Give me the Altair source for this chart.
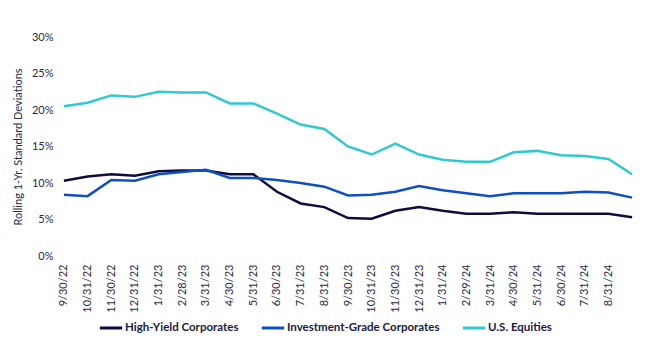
import altair as alt
import pandas as pd

dates = ["9/30/22", "10/31/22", "11/30/22", "12/31/22", "1/31/23", "2/28/23", "3/31/23",
         "4/30/23", "5/31/23", "6/30/23", "7/31/23", "8/31/23", "9/30/23", "10/31/23",
         "11/30/23", "12/31/23", "1/31/24", "2/29/24", "3/31/24", "4/30/24", "5/31/24",
         "6/30/24", "7/31/24", "8/31/24", "9/30/24"]

high_yield = [10.3, 10.9, 11.2, 11.0, 11.6, 11.7, 11.7, 11.2, 11.2, 8.8, 7.2, 6.7, 5.2, 5.1,
              6.2, 6.7, 6.2, 5.8, 5.8, 6.0, 5.8, 5.8, 5.8, 5.8, 5.3]
inv_grade = [8.4, 8.2, 10.4, 10.3, 11.2, 11.5, 11.8, 10.7, 10.7, 10.4, 10.0, 9.5, 8.3, 8.4,
             8.8, 9.6, 9.0, 8.6, 8.2, 8.6, 8.6, 8.6, 8.8, 8.7, 8.0]
equities = [20.5, 21.0, 22.0, 21.8, 22.5, 22.4, 22.4, 20.9, 20.9, 19.5, 18.0, 17.4, 15.0, 13.9,
            15.4, 13.9, 13.2, 12.9, 12.9, 14.2, 14.4, 13.8, 13.7, 13.3, 11.2]

series = ["High-Yield Corporates", "Investment-Grade Corporates", "U.S. Equities"]
colors = ["#0d0d3d", "#0f4fc4", "#2fc9d2"]

rows = []
for name, vals in zip(series, [high_yield, inv_grade, equities]):
    for d, v in zip(dates, vals):
        rows.append({"date": d, "series": name, "value": v / 100})
df = pd.DataFrame(rows)

FONT = "Lato"
TXT = "#2a2a44"

chart = alt.Chart(df).mark_line(strokeWidth=2.5).encode(
    x=alt.X("date:O", sort=dates, title=None,
            scale=alt.Scale(type="point", padding=0.25),
            axis=alt.Axis(labelAngle=-90, labelExpr="datum.value == '9/30/24' ? '' : datum.label",
                          domain=False, ticks=False, labelPadding=8, labelFontSize=11,
                          labelColor=TXT, labelFont=FONT, labelBaseline="middle", labelAlign="right")),
    y=alt.Y("value:Q", title="Rolling 1-Yr. Standard Deviations",
            scale=alt.Scale(domain=[0, 0.3]),
            axis=alt.Axis(format=".0%", values=[0, 0.05, 0.1, 0.15, 0.2, 0.25, 0.3],
                          domain=False, ticks=False, grid=False, labelPadding=5,
                          labelFontSize=11, labelColor=TXT, labelFont=FONT,
                          titleFontSize=11, titleFontWeight="normal", titleColor=TXT,
                          titleFont=FONT, titlePadding=8)),
    color=alt.Color("series:N", sort=series,
                    scale=alt.Scale(domain=series, range=colors),
                    legend=alt.Legend(title=None, orient="none", legendX=40, legendY=278,
                                      direction="horizontal",
                                      symbolType="stroke", symbolSize=500, symbolStrokeWidth=3,
                                      labelFont=FONT, labelFontSize=11.5, labelFontWeight="bold",
                                      labelColor="#1a1a40", columnPadding=16, symbolOffset=0,
                                      labelOffset=1)),
).properties(
    width=580, height=219,
    padding={"top": 23, "left": 4, "right": 0, "bottom": 5},
).configure_view(stroke=None)

chart.save("out.html", embed_options={"renderer": "svg", "actions": False})
